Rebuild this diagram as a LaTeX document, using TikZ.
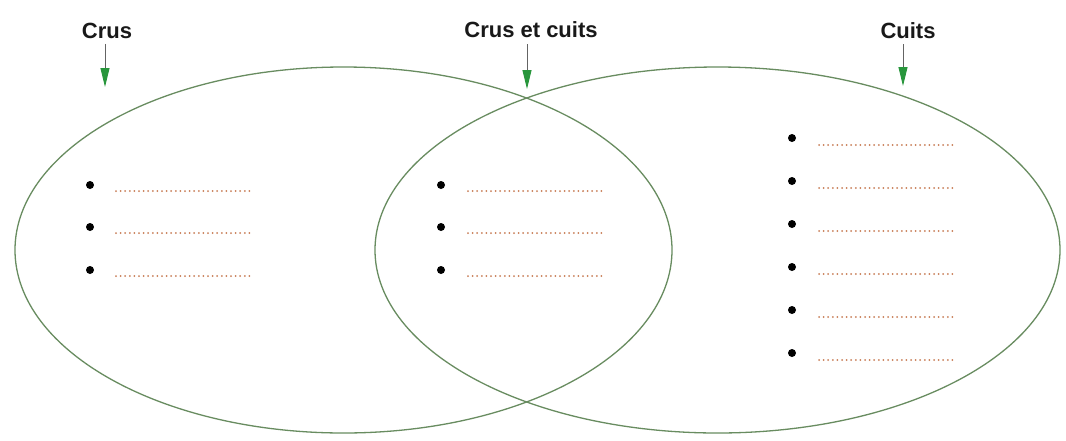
\documentclass[tikz,border=0pt]{standalone}
\usepackage{fontspec}
\setmainfont{Liberation Sans}
\usetikzlibrary{arrows.meta,shapes.geometric}
\definecolor{ringgreen}{RGB}{104,140,96}
\definecolor{tipgreen}{RGB}{40,150,60}
\definecolor{shaftgray}{RGB}{100,100,100}
\definecolor{dotorange}{RGB}{200,125,85}
\tikzset{
  ring/.style={draw=ringgreen, line width=1.3pt},
  title/.style={font=\bfseries\fontsize{22}{24}\selectfont, inner sep=0pt, text=black!90},
  pointer/.style={draw=shaftgray, line width=1pt, -{Triangle[length=19pt,width=9pt,color=tipgreen]}},
  bullet/.style={circle, fill=black, inner sep=0pt, minimum size=8pt},
  fillin/.style={draw=dotorange, line width=2pt, line cap=round, dash pattern=on 0pt off 4.6pt}
}
\begin{document}
\begin{tikzpicture}[x=1pt,y=-1pt]
\useasboundingbox (0,0) rectangle (1066,440);
\fill[white] (0,0) rectangle (1066,440);
% ellipses
\node[ring, ellipse, minimum width=657pt, minimum height=366pt, inner sep=0pt] (L) at (343.5,250) {};
\node[ring, ellipse, minimum width=685pt, minimum height=366pt, inner sep=0pt] (R) at (717.5,250) {};
% titles
\node[title] (tcrus) at (107,31) {Crus};
\node[title] (tboth) at (531,30) {Crus et cuits};
\node[title] (tcuits) at (908,31) {Cuits};
\coordinate (acrus) at (105,87);
\coordinate (aboth) at (527,89);
\coordinate (acuits) at (903,86);
\draw[pointer] (tcrus.south -| acrus) ++(0,5) -- (acrus);
\draw[pointer] (tboth.south -| aboth) ++(0,6) -- (aboth);
\draw[pointer] (tcuits.south -| acuits) ++(0,5) -- (acuits);
% left column
\foreach \y [count=\i] in {185,227,270}{
  \node[bullet] (lb\i) at (90,\y) {};
  \coordinate (ls\i) at (116,\y+6);
  \coordinate (le\i) at (252,\y+6);
  \draw[fillin] (ls\i) -- (le\i);
}
% middle column
\foreach \y [count=\i] in {185,227,270}{
  \node[bullet] (mb\i) at (441,\y) {};
  \coordinate (ms\i) at (468,\y+6);
  \coordinate (me\i) at (604,\y+6);
  \draw[fillin] (ms\i) -- (me\i);
}
% right column
\foreach \y [count=\i] in {138,181,224,267,310,353}{
  \node[bullet] (rb\i) at (792,\y) {};
  \coordinate (rs\i) at (819,\y+7);
  \coordinate (re\i) at (954,\y+7);
  \draw[fillin] (rs\i) -- (re\i);
}
\end{tikzpicture}
\end{document}
